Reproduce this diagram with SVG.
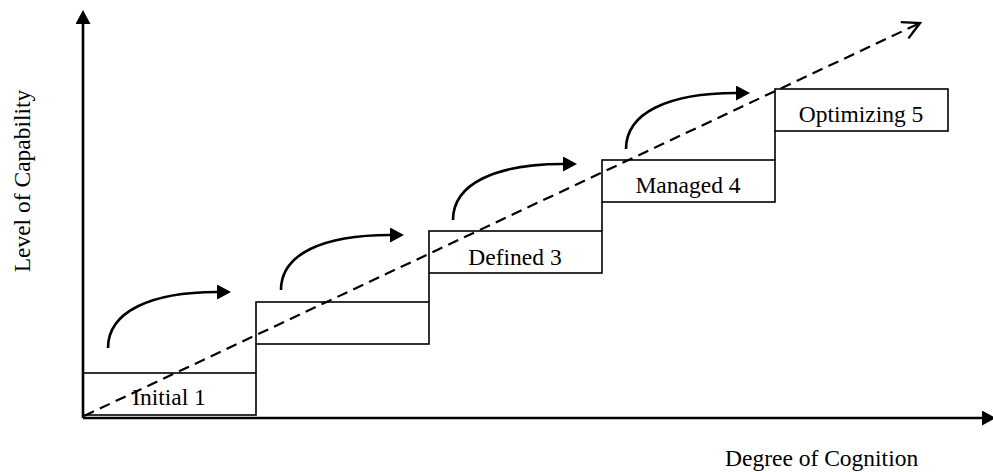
<svg xmlns="http://www.w3.org/2000/svg" width="993" height="472" viewBox="0 0 993 472">
<style>
.box{fill:#fff;stroke:#000;stroke-width:1.6}
.step{fill:none;stroke:#000;stroke-width:1.6}
.lbl{font-family:"Liberation Serif","Times New Roman",serif;font-size:23.5px;fill:#000}
.axis{fill:none;stroke:#000;stroke-width:2.6}
.curve{fill:none;stroke:#000;stroke-width:2.6}
.trend{fill:none;stroke:#000;stroke-width:2.2;stroke-dasharray:11 6.5}
</style>
<defs>
<marker id="fill" viewBox="0 0 14 15" refX="0" refY="7.5" markerWidth="14" markerHeight="15" markerUnits="userSpaceOnUse" orient="auto">
<path d="M0,0 L14,7.5 L0,15 Z" fill="#000"/>
</marker>
<marker id="open" viewBox="0 0 22 22" refX="20" refY="11" markerWidth="22" markerHeight="22" markerUnits="userSpaceOnUse" orient="auto">
<path d="M3,2 L20,11 L3,20" fill="none" stroke="#000" stroke-width="2.4"/>
</marker>
</defs>
<rect width="993" height="472" fill="#fff"/>
<g id="nodes">
<g id="step1">
<rect class="box" x="83" y="373" width="173" height="42"/>
<text class="lbl" x="169" y="405" text-anchor="middle">Initial 1</text>
</g>
<g id="step2">
<rect class="box" x="256" y="302" width="173" height="42"/>
</g>
<g id="step3">
<rect class="box" x="429" y="231" width="173" height="42"/>
<text class="lbl" x="515" y="265" text-anchor="middle">Defined 3</text>
</g>
<g id="step4">
<rect class="box" x="602" y="160" width="173" height="42"/>
<text class="lbl" x="688" y="193" text-anchor="middle">Managed 4</text>
</g>
<g id="step5">
<rect class="box" x="775" y="89" width="173" height="42"/>
<text class="lbl" x="861" y="122" text-anchor="middle">Optimizing 5</text>
</g>
<g id="risers">
<path class="step" d="M256,344 V373 M429,273 V302 M602,202 V231 M775,131 V160"/>
</g>
</g>
<g id="axes">
<path class="axis" d="M83,418 V24" marker-end="url(#fill)"/>
<path class="axis" d="M83,418 H982" marker-end="url(#fill)"/>
<text class="lbl" transform="translate(30,181) rotate(-90)" text-anchor="middle">Level of Capability</text>
<text class="lbl" x="725" y="466">Degree of Cognition</text>
</g>
<g id="connectors">
<path class="trend" d="M84,416 L920,23" marker-end="url(#open)"/>
<path class="curve" d="M108,348 C108,312 150,292 217,292" marker-end="url(#fill)"/>
<path class="curve" d="M281,290 C281,254 323,235 390,235" marker-end="url(#fill)"/>
<path class="curve" d="M453,220 C453,184 495,164 563,164" marker-end="url(#fill)"/>
<path class="curve" d="M626,149 C626,113 668,93 736,93" marker-end="url(#fill)"/>
</g>
</svg>
